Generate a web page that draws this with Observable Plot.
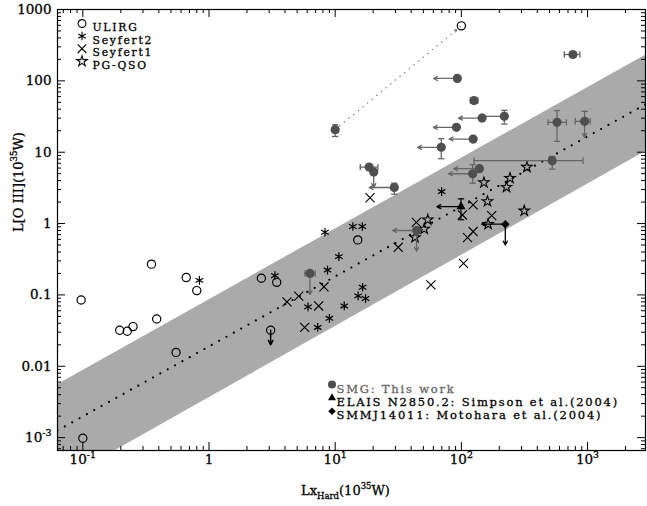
<!DOCTYPE html>
<html>
<head>
<meta charset="utf-8">
<script src="https://cdn.jsdelivr.net/npm/d3@7"></script>
<script src="https://cdn.jsdelivr.net/npm/@observablehq/plot@0.6"></script>
<style>
  body { margin: 0; background: #fff; }
  #chart svg { display: block; }
</style>
</head>
<body>
<div id="chart"></div>
<script>
// ---- ULIRGs (open circles) ----
const ulirgX = [0.097, 0.10, 0.35, 0.66, 0.80, 0.196, 0.225, 0.25, 0.385, 0.548, 2.60, 3.44, 15.1, 3.08, 100];
const ulirgY = [0.085, 0.00098, 0.27, 0.175, 0.115, 0.032, 0.031, 0.036, 0.046, 0.0156, 0.171, 0.150, 0.59, 0.032, 590];
// ULIRG upper limit in [O III]
const ulirgLimX = [3.08];
const ulirgLimFrom = [0.032];
const ulirgLimTo = [0.020];

// ---- Seyfert 2 (asterisks) ----
const sy2X = [0.84, 8.3, 13.8, 16.4, 3.33, 10.7, 8.7, 6.09, 11.8, 16.5, 15.2, 17.4, 9.0, 7.27, 69.8];
const sy2Y = [0.16, 0.755, 0.91, 0.91, 0.186, 0.344, 0.223, 0.068, 0.070, 0.128, 0.097, 0.089, 0.047, 0.035, 2.81];

// ---- Seyfert 1 (crosses) ----
const sy1X = [4.15, 5.14, 7.4, 8.15, 5.73, 18.9, 44, 31.6, 104, 112, 124, 102, 124, 174, 57.4];
const sy1Y = [0.080, 0.096, 0.070, 0.130, 0.035, 2.30, 1.04, 0.465, 0.277, 0.636, 0.773, 1.32, 1.83, 1.29, 0.138];

// ---- PG QSOs (open stars) ----
const qsoX = [331, 151, 243, 228, 161, 315, 163, 54.2, 50.8, 42.9];
const qsoY = [6.18, 3.76, 4.33, 3.24, 2.04, 1.51, 0.98, 1.13, 0.84, 0.64];

// ---- SMGs (this work): values, error bars and limit arrows ----
const smgX    = [10.0, 92.9, 126, 146, 219, 91.4, 124, 69.3, 18.6, 20.2, 29.4, 525, 139, 123, 573, 948, 766, 44.2, 6.31];
const smgY    = [20.7, 108, 52.9, 30.1, 31.8, 22.3, 15.3, 11.7, 6.18, 5.26, 3.2, 7.6, 5.87, 4.99, 26.2, 27.1, 234, 0.80, 0.200];
const smgXlo  = [9.5, null, 118, null, 146, null, null, null, 15.8, null, null, 126, null, null, 487, 800, 654, null, 5.76];
const smgXhi  = [10.6, null, 135, null, 219, null, null, null, 21.8, null, null, 920, null, null, 680, 1050, 870, null, 6.95];
const smgYlo  = [16.6, null, null, null, 24.8, null, null, 8.1, null, null, 2.58, 5.79, null, 3.68, 14.2, null, null, null, null];
const smgYhi  = [24.3, null, null, null, 38.6, null, null, 15.5, null, null, 3.68, 8.73, null, 6.67, 38.3, 37.4, null, null, null];
const smgXlim = [null, 60.3, null, 95, null, 60, 80, 45, null, null, 18.6, null, 87, 79, null, null, null, 28.5, null];
const smgYlim = [null, null, null, null, null, null, null, null, null, 3.2, null, null, null, null, null, 16.1, null, 0.41, 0.101];

// Same object seen as SMG and as ULIRG
const pairX = [10.0, 100];
const pairY = [20.7, 590];

// ---- ELAIS N2850.2 (Simpson et al. 2004) ----
const elaisX = [99.3], elaisY = [1.73], elaisYlo = [1.13], elaisYhi = [2.22], elaisXlim = [64];
// ---- SMMJ14011 (Motohara et al. 2004) ----
const smmX = [223], smmY = [0.98], smmXlim = [145], smmYlim = [0.50];

// ---- Correlation and its scatter band ----
const fitX = [0.063, 2880];
const fitY = [0.00126, 46.8];
const bandLo = [0.00023, 10.2];
const bandHi = [0.0055, 229];

// ---- Axes ----
const xDomain = [0.063, 2880];
const yDomain = [6.6e-4, 1000];
const xTickValues = [0.1, 1, 10, 100, 1000];
const xTickLabels = ["10^{-1}", "1", "10^{1}", "10^{2}", "10^{3}"];
const yTickValues = [0.001, 0.01, 0.1, 1, 10, 100, 1000];
const yTickLabels = ["10^{-3}", "0.01", "0.1", "1", "10", "100", "1000"];
const xTitle = "Lx_{Hard}(10^{35}W)";
const yTitle = "L[O III](10^{35}W)";

const legendTopLabels = ["ULIRG", "Seyfert2", "Seyfert1", "PG-QSO"];
const legendTopSymbols = ["circle", "asterisk", "times", "star"];
const legendBottomLabels = ["SMG: This work", "ELAIS N2850.2: Simpson et al.(2004)", "SMMJ14011: Motohara et al.(2004)"];
const legendBottomSymbols = ["circle", "triangle", "square"];

// ---- build tables ----
const zip = (xs, ys) => xs.map((x, i) => ({x, y: ys[i]}));
const ulirg = zip(ulirgX, ulirgY);
const sy2 = zip(sy2X, sy2Y);
const sy1 = zip(sy1X, sy1Y);
const qso = zip(qsoX, qsoY);
const smg = smgX.map((x, i) => ({
  x, y: smgY[i], xlo: smgXlo[i], xhi: smgXhi[i], ylo: smgYlo[i], yhi: smgYhi[i],
  xlim: smgXlim[i], ylim: smgYlim[i]
}));
const band = fitX.map((x, i) => ({x, y: fitY[i], lo: bandLo[i], hi: bandHi[i]}));
const elais = elaisX.map((x, i) => ({x, y: elaisY[i], ylo: elaisYlo[i], yhi: elaisYhi[i], xlim: elaisXlim[i]}));
const smm = smmX.map((x, i) => ({x, y: smmY[i], xlim: smmXlim[i], ylim: smmYlim[i]}));
const ulirgLim = ulirgLimX.map((x, i) => ({x, y1: ulirgLimFrom[i], y2: ulirgLimTo[i]}));
// start of the arrowhead segment, a short way back along the connecting line
const near = (a, b, f) => a * Math.pow(b / a, f);

const W = 647, H = 506;
const mL = 57, mR = 2, mT = 9, mB = 56;
const frameH = H - mT - mB, frameW = W - mL - mR;
const grey = "#666";
const smgFill = "#4f4f4f";
const ink = {fill: "black", stroke: "black", strokeWidth: 0.3};

// error-bar end caps
const capV = {draw(c) { c.moveTo(0, -3.2); c.lineTo(0, 3.2); }};
const capH = {draw(c) { c.moveTo(-3.2, 0); c.lineTo(3.2, 0); }};

// minor ticks from the log scale
const isMajor = (list, v) => list.some(t => Math.abs(t - v) / t < 1e-9);
const xMinor = d3.scaleLog().domain(xDomain).ticks().filter(v => !isMajor(xTickValues, v));
const yMinor = d3.scaleLog().domain(yDomain).ticks().filter(v => !isMajor(yTickValues, v));

const tickMarksX = (major, minor, len, lenMinor) => [
  Plot.tickX(major, {x: d => d, insetTop: frameH - len, stroke: "black"}),
  Plot.tickX(major, {x: d => d, insetBottom: frameH - len, stroke: "black"}),
  Plot.tickX(minor, {x: d => d, insetTop: frameH - lenMinor, stroke: "black"}),
  Plot.tickX(minor, {x: d => d, insetBottom: frameH - lenMinor, stroke: "black"})
];
const tickMarksY = (major, minor, len, lenMinor) => [
  Plot.tickY(major, {y: d => d, insetRight: frameW - len, stroke: "black"}),
  Plot.tickY(major, {y: d => d, insetLeft: frameW - len, stroke: "black"}),
  Plot.tickY(minor, {y: d => d, insetRight: frameW - lenMinor, stroke: "black"}),
  Plot.tickY(minor, {y: d => d, insetLeft: frameW - lenMinor, stroke: "black"})
];

// top-left legend
const topRow0 = 14, topStep = 12.6, topFont = 10.8;
const legendTopMarks = legendTopSymbols.flatMap((s, i) => [
  Plot.dot([s], {
    frameAnchor: "top-left", dx: 24.5, dy: topRow0 + i * topStep, symbol: s,
    r: s === "star" ? 3.3 : s === "circle" ? 3.9 : 4, stroke: "black", fill: "none", strokeWidth: 1.1
  }),
  Plot.text([legendTopLabels[i]], {
    text: d => d, frameAnchor: "top-left", dx: 35, dy: topRow0 + i * topStep,
    textAnchor: "start", fontSize: topFont, ...ink
  })
]);

// bottom legend
const botRow0 = 375, botStep = 13.4, botFont = 11.5;
const legendBottomMarks = legendBottomSymbols.flatMap((s, i) => [
  Plot.dot([s], {
    frameAnchor: "top-left", dx: 274.5, dy: botRow0 + i * botStep, symbol: s,
    rotate: s === "square" ? 45 : 0,
    r: s === "circle" ? 4 : 3, fill: s === "circle" ? smgFill : "black"
  }),
  Plot.text([legendBottomLabels[i]], {
    text: d => d, frameAnchor: "top-left", dx: 279, dy: botRow0 + i * botStep,
    textAnchor: "start", fontSize: botFont,
    fill: i === 0 ? grey : "black", stroke: i === 0 ? grey : "black", strokeWidth: 0.3
  })
]);

const chart = Plot.plot({
  width: W, height: H,
  marginLeft: mL, marginRight: mR, marginTop: mT, marginBottom: mB,
  x: {type: "log", domain: xDomain, axis: null},
  y: {type: "log", domain: yDomain, axis: null},
  style: {fontFamily: "'DejaVu Serif', serif", fontSize: "13px", color: "black", background: "white"},
  marks: [
    // scatter band and correlation
    Plot.areaY(band, {x: "x", y1: "lo", y2: "hi", fill: "#aaaaaa", clip: true}),
    Plot.line(band, {x: "x", y: "y", stroke: "black", strokeWidth: 2.2, strokeDasharray: "0 8.4", strokeLinecap: "round", clip: true}),

    // SMG / ULIRG connection
    Plot.link([0], {x1: () => pairX[0], y1: () => pairY[0], x2: () => pairX[1], y2: () => pairY[1],
      stroke: "#777", strokeWidth: 1.5, strokeDasharray: "0 6", strokeLinecap: "round", insetEnd: 7, insetStart: 6}),
    Plot.arrow([0], {x1: () => near(pairX[1], pairX[0], 0.05), y1: () => near(pairY[1], pairY[0], 0.05),
      x2: () => pairX[1], y2: () => pairY[1], stroke: "#777", strokeWidth: 1, headLength: 5, insetEnd: 6}),

    // comparison samples
    Plot.dot(ulirg, {x: "x", y: "y", r: 4.1, stroke: "black", fill: "none", strokeWidth: 1.2}),
    Plot.arrow(ulirgLim, {x1: "x", y1: "y1", x2: "x", y2: "y2", stroke: "black", headLength: 5, headAngle: 55}),
    Plot.dot(sy2, {x: "x", y: "y", symbol: "asterisk", r: 4.1, stroke: "black", strokeWidth: 1.2}),
    Plot.dot(sy1, {x: "x", y: "y", symbol: "times", r: 4.2, stroke: "black", strokeWidth: 1.1}),
    Plot.dot(qso, {x: "x", y: "y", symbol: "star", r: 3.3, stroke: "black", fill: "none", strokeWidth: 1.1}),

    // SMG error bars, caps and limits
    Plot.ruleY(smg.filter(d => d.xlo != null), {x1: "xlo", x2: "xhi", y: "y", stroke: grey, strokeWidth: 1.3}),
    Plot.ruleX(smg.filter(d => d.ylo != null || d.yhi != null), {x: "x", y1: d => d.ylo ?? d.y, y2: d => d.yhi ?? d.y, stroke: grey, strokeWidth: 1.3}),
    Plot.dot(smg, {x: "xlo", y: "y", symbol: capV, stroke: grey, fill: "none", strokeWidth: 1.3}),
    Plot.dot(smg, {x: "xhi", y: "y", symbol: capV, stroke: grey, fill: "none", strokeWidth: 1.3}),
    Plot.dot(smg, {x: "x", y: "ylo", symbol: capH, stroke: grey, fill: "none", strokeWidth: 1.3}),
    Plot.dot(smg, {x: "x", y: "yhi", symbol: capH, stroke: grey, fill: "none", strokeWidth: 1.3}),
    Plot.arrow(smg.filter(d => d.xlim != null), {x1: "x", y1: "y", x2: "xlim", y2: "y", stroke: grey, strokeWidth: 1.3, headLength: 5, headAngle: 55}),
    Plot.arrow(smg.filter(d => d.ylim != null), {x1: "x", y1: "y", x2: "x", y2: "ylim", stroke: grey, strokeWidth: 1.3, headLength: 5, headAngle: 55}),
    Plot.dot(smg, {x: "x", y: "y", r: 4.6, fill: smgFill}),

    // ELAIS N2850.2
    Plot.ruleX(elais, {x: "x", y1: "ylo", y2: "yhi", stroke: "black", strokeWidth: 1.2}),
    Plot.dot(elais, {x: "x", y: "ylo", symbol: capH, stroke: "black", fill: "none", strokeWidth: 1.2}),
    Plot.dot(elais, {x: "x", y: "yhi", symbol: capH, stroke: "black", fill: "none", strokeWidth: 1.2}),
    Plot.arrow(elais, {x1: "x", y1: "y", x2: "xlim", y2: "y", stroke: "black", strokeWidth: 1.3, headLength: 5, headAngle: 55}),
    Plot.dot(elais, {x: "x", y: "y", symbol: "triangle", r: 3.4, fill: "black"}),

    // SMMJ14011
    Plot.arrow(smm, {x1: "x", y1: "y", x2: "xlim", y2: "y", stroke: "black", strokeWidth: 1.3, headLength: 5, headAngle: 55}),
    Plot.arrow(smm, {x1: "x", y1: "y", x2: "x", y2: "ylim", stroke: "black", strokeWidth: 1.3, headLength: 5, headAngle: 55}),
    Plot.dot(smm, {x: "x", y: "y", symbol: "square", rotate: 45, r: 3.4, fill: "black"}),

    // frame and ticks
    Plot.frame({stroke: "black", strokeWidth: 1.2}),
    ...tickMarksX(xTickValues, xMinor, 8, 4),
    ...tickMarksY(yTickValues, yMinor, 8, 4),

    // tick labels
    Plot.text(xTickValues, {x: d => d, text: (d, i) => xTickLabels[i], frameAnchor: "bottom", dy: 13, fontSize: 13.5, ...ink}),
    Plot.text(yTickValues, {y: d => d, text: (d, i) => yTickLabels[i], frameAnchor: "left", dx: -6, textAnchor: "end", fontSize: 13.5, ...ink}),

    // axis titles
    Plot.text([xTitle], {text: d => d, frameAnchor: "bottom", dy: 44, dx: -6, ...ink}),
    Plot.text([yTitle], {text: d => d, frameAnchor: "left", dx: -39, dy: 2, rotate: -90, ...ink}),

    // legends
    ...legendTopMarks,
    ...legendBottomMarks
  ]
});

// superscripts ^{..} and subscripts _{..} in labels
const SVGNS = "http://www.w3.org/2000/svg";
chart.querySelectorAll("text").forEach(node => {
  const s = node.textContent;
  if (!/[\^_]\{/.test(s)) return;
  const isTitle = s === xTitle || s === yTitle;
  const small = isTitle ? 8.5 : 9.5;
  const parts = [];
  const re = /([\^_])\{([^}]*)\}/g;
  let last = 0, m;
  while ((m = re.exec(s))) {
    if (m.index > last) parts.push({t: s.slice(last, m.index), k: 0});
    parts.push({t: m[2], k: m[1] === "^" ? 1 : -1});
    last = re.lastIndex;
  }
  if (last < s.length) parts.push({t: s.slice(last), k: 0});
  while (node.firstChild) node.removeChild(node.firstChild);
  let cur = 0;
  for (const p of parts) {
    const ts = document.createElementNS(SVGNS, "tspan");
    const target = p.k === 1 ? -6 : p.k === -1 ? 4 : 0;
    ts.setAttribute("dy", target - cur);
    if (p.k !== 0) ts.setAttribute("font-size", small + "px");
    cur = target;
    ts.textContent = p.t;
    node.appendChild(ts);
  }
});

// wide letter spacing for the legend entries
const wideTop = new Set(legendTopLabels);
const wideBottom = new Set(legendBottomLabels);
chart.querySelectorAll("text").forEach(node => {
  if (wideTop.has(node.textContent)) node.style.letterSpacing = "1.75px";
  else if (wideBottom.has(node.textContent)) node.style.letterSpacing = "1.8px";
});

document.getElementById("chart").appendChild(chart);
</script>
</body>
</html>
